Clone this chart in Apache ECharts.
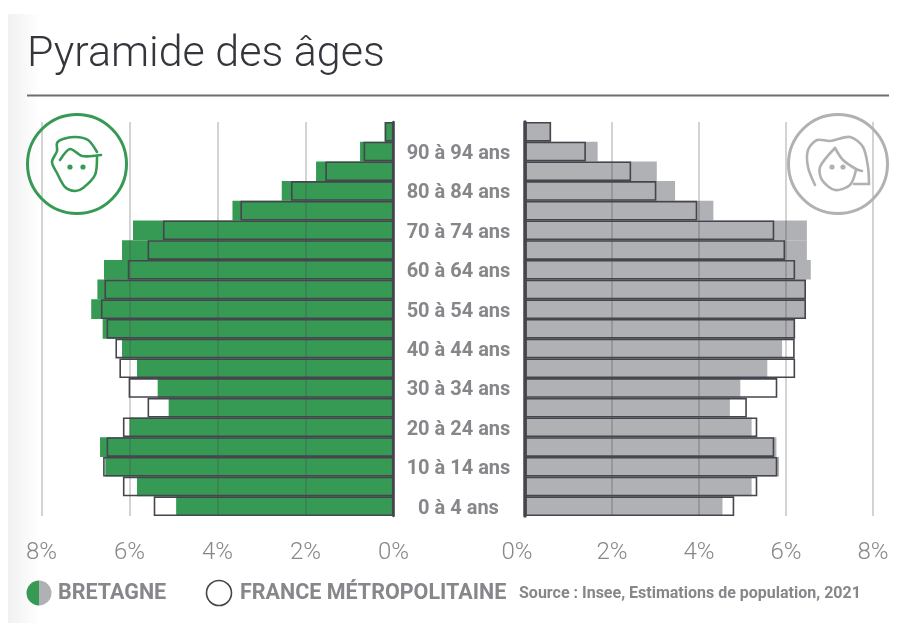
<!DOCTYPE html>
<html>
<head>
<meta charset="utf-8">
<title>Pyramide des âges</title>
<style>
  html, body { margin: 0; padding: 0; background: #fff; }
  #chart { width: 912px; height: 623px; }
</style>
</head>
<body>
<div id="chart"></div>
<script src="https://cdn.jsdelivr.net/npm/echarts@6/dist/echarts.min.js"></script>
<script>
// tranches d'age, du bas vers le haut
var ageGroups = ['0 à 4 ans', '5 à 9 ans', '10 à 14 ans', '15 à 19 ans', '20 à 24 ans', '25 à 29 ans', '30 à 34 ans', '35 à 39 ans', '40 à 44 ans', '45 à 49 ans', '50 à 54 ans', '55 à 59 ans', '60 à 64 ans', '65 à 69 ans', '70 à 74 ans', '75 à 79 ans', '80 à 84 ans', '85 à 89 ans', '90 à 94 ans', '95 ans et plus']
var bretagneMen = [4.94, 5.83, 6.55, 6.67, 6.0, 5.11, 5.36, 5.83, 6.17, 6.61, 6.87, 6.73, 6.58, 6.17, 5.92, 3.66, 2.54, 1.76, 0.76, 0.2]
var franceMen = [5.45, 6.15, 6.6, 6.52, 6.15, 5.59, 6.02, 6.23, 6.32, 6.52, 6.65, 6.57, 6.04, 5.59, 5.24, 3.48, 2.33, 1.55, 0.68, 0.2]
var bretagneWomen = [4.54, 5.21, 5.84, 5.78, 5.21, 4.71, 4.95, 5.57, 5.91, 6.2, 6.45, 6.45, 6.57, 6.48, 6.48, 4.33, 3.45, 3.03, 1.67, 0.6]
var franceWomen = [4.81, 5.34, 5.8, 5.73, 5.34, 5.1, 5.8, 6.21, 6.2, 6.21, 6.46, 6.46, 6.21, 5.98, 5.73, 3.96, 3.02, 2.44, 1.4, 0.6]
var xTicks = [0, 2, 4, 6, 8]

var GREEN = '#379a54'
var GREY = '#b0b1b5'
var INK = '#45454d'
var TEXT = '#86868b'

function xAxisFor (idx, inverse) {
  return {
    type: 'value',
    gridIndex: idx,
    inverse: inverse,
    min: xTicks[0],
    max: xTicks[xTicks.length - 1],
    interval: 2,
    z: 3,
    axisLine: { show: false },
    axisTick: { show: false },
    splitLine: { show: true, lineStyle: { color: 'rgba(70,70,75,0.32)', width: 1.5 } },
    axisLabel: {
      margin: 25,
      fontFamily: 'Roboto',
      fontWeight: 300,
      fontSize: 24,
      color: TEXT,
      // le 0% de droite est decale vers le centre
      formatter: function (v) {
        return (!inverse && v === 0) ? '{z|0%}' : v + '%'
      },
      rich: { z: { fontFamily: 'Roboto', fontWeight: 300, fontSize: 24, color: TEXT, padding: [0, 16, 0, 0] } }
    }
  }
}

function barsFor (idx, fill, outline, color) {
  return [{
    type: 'bar',
    name: 'Bretagne',
    xAxisIndex: idx,
    yAxisIndex: idx,
    data: fill,
    barWidth: '100%',
    barGap: '-100%',
    silent: true,
    z: 2,
    itemStyle: { color: color }
  }, {
    type: 'bar',
    name: 'France métropolitaine',
    xAxisIndex: idx,
    yAxisIndex: idx,
    data: outline,
    barWidth: '100%',
    barGap: '-100%',
    silent: true,
    z: 4,
    itemStyle: { color: 'rgba(0,0,0,0)', borderColor: INK, borderWidth: 1.6 }
  }]
}

function iconLine (points, color) {
  return { type: 'polyline', z: 20, shape: { points: points, smooth: 0.3 }, style: { fill: 'none', stroke: color, lineWidth: 2.6, lineCap: 'round' } }
}

function iconDot (x, y, color) {
  return { type: 'circle', z: 20, shape: { cx: x, cy: y, r: 2.6 }, style: { fill: color } }
}

function legendText (x, y, text, font) {
  return { type: 'text', x: x, y: y, style: { text: text, font: font, fill: TEXT, verticalAlign: 'middle' } }
}

var chart = echarts.init(document.getElementById('chart'))
chart.setOption({
  animation: false,
  backgroundColor: '#fff',
  grid: [
    { left: 41.5, width: 352, top: 122, height: 394 },
    { left: 525, width: 348, top: 122, height: 394 }
  ],
  xAxis: [xAxisFor(0, true), xAxisFor(1, false)],
  yAxis: [{
    type: 'category',
    gridIndex: 0,
    position: 'right',
    data: ageGroups,
    z: 5,
    axisLine: { show: true, lineStyle: { color: INK, width: 2.5 } },
    axisTick: { show: false },
    splitLine: { show: false },
    axisLabel: {
      interval: 1,
      margin: 65,
      align: 'center',
      formatter: '{a|{value}}',
      rich: { a: { fontFamily: 'Roboto', fontWeight: 'bold', fontSize: 20, color: TEXT, padding: [5, 0, 0, 0] } }
    }
  }, {
    type: 'category',
    gridIndex: 1,
    data: ageGroups,
    z: 5,
    axisLine: { show: true, lineStyle: { color: INK, width: 3.5 } },
    axisTick: { show: false },
    axisLabel: { show: false },
    splitLine: { show: false }
  }],
  series: barsFor(0, bretagneMen, franceMen, GREEN).concat(barsFor(1, bretagneWomen, franceWomen, GREY)),
  graphic: [
    // fond legerement gris a gauche
    { type: 'rect', z: -10, shape: { x: 8, y: 14, width: 32, height: 609 }, style: { fill: { type: 'linear', x: 0, y: 0, x2: 1, y2: 0, colorStops: [{ offset: 0, color: '#f1f1f1' }, { offset: 1, color: '#ffffff' }] } } },
    { type: 'text', x: 27, y: 34, style: { text: 'Pyramide des âges', font: '300 43px Roboto', fill: '#34363c' } },
    { type: 'line', shape: { x1: 27, y1: 95.5, x2: 889, y2: 95.5 }, style: { stroke: '#6e6e6e', lineWidth: 2 } },
    // pictogrammes
    { type: 'circle', z: 20, shape: { cx: 77, cy: 164, r: 49.5 }, style: { fill: 'none', stroke: GREEN, lineWidth: 3 } },
    iconLine([[97, 157], [95, 175], [83, 188], [75, 191], [65, 187], [57, 173], [52, 162], [57, 151], [57, 143], [63, 139], [75, 137], [88, 140], [97, 152]], GREEN),
    iconLine([[60, 160], [70, 149], [82, 156], [101, 155]], GREEN),
    iconDot(70, 167, GREEN),
    iconDot(83, 167, GREEN),
    { type: 'circle', z: 20, shape: { cx: 838, cy: 164, r: 49.5 }, style: { fill: 'none', stroke: GREY, lineWidth: 3 } },
    iconLine([[815, 185], [808, 167], [808, 150], [817, 140], [830, 141], [850, 137], [863, 147], [868, 167], [869, 184]], GREY),
    iconLine([[869, 184], [854, 184]], GREY),
    iconLine([[835, 148], [820, 167], [822, 180], [835, 190], [850, 185], [856, 170]], GREY),
    iconLine([[835, 148], [843, 160], [856, 169], [862, 171]], GREY),
    iconDot(832, 167, GREY),
    iconDot(843, 167, GREY),
    // legende
    { type: 'sector', shape: { cx: 39, cy: 593, r: 12.5, startAngle: Math.PI / 2, endAngle: Math.PI * 1.5 }, style: { fill: GREEN } },
    { type: 'sector', shape: { cx: 39, cy: 593, r: 12.5, startAngle: -Math.PI / 2, endAngle: Math.PI / 2 }, style: { fill: GREY } },
    legendText(58, 594, 'BRETAGNE', 'bold 21.5px Roboto'),
    { type: 'circle', shape: { cx: 219, cy: 593, r: 12.5 }, style: { fill: '#fff', stroke: INK, lineWidth: 1.6 } },
    legendText(240, 594, 'FRANCE MÉTROPOLITAINE', 'bold 21.5px Roboto'),
    legendText(519, 594, 'Source : Insee, Estimations de population, 2021', 'bold 16px Roboto')
  ]
})
</script>
</body>
</html>
